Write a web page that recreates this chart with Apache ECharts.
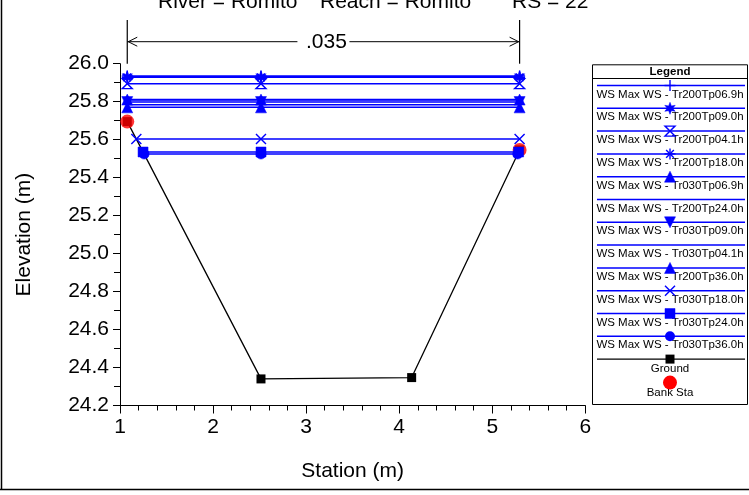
<!DOCTYPE html>
<html><head><meta charset="utf-8">
<script src="https://cdn.jsdelivr.net/npm/echarts@6/dist/echarts.min.js"></script>
<style>html,body{margin:0;padding:0;background:#fff}#c{width:749px;height:495px}</style>
</head><body><div id="c"></div>
<script>
// ---- data ----
const titleParts = ['River = Romito', 'Reach = Romito', 'RS = 22'];
const nValueLabel = '.035';
const groundStation = [1.078, 2.515, 4.134, 5.294];
const groundElev = [25.695, 24.340, 24.347, 25.546];
const bankStation = [1.078, 5.294];
const bankElev = [25.695, 25.546];
const profileNames = [
  'WS Max WS - Tr200Tp06.9h', 'WS Max WS - Tr200Tp09.0h', 'WS Max WS - Tr200Tp04.1h',
  'WS Max WS - Tr200Tp18.0h', 'WS Max WS - Tr030Tp06.9h', 'WS Max WS - Tr200Tp24.0h',
  'WS Max WS - Tr030Tp09.0h', 'WS Max WS - Tr030Tp04.1h', 'WS Max WS - Tr200Tp36.0h',
  'WS Max WS - Tr030Tp18.0h', 'WS Max WS - Tr030Tp24.0h', 'WS Max WS - Tr030Tp36.0h'
];
const profileWS = [25.935, 25.931, 25.895, 25.928, 25.811, 25.809, 25.798, 25.784, 25.770, 25.603, 25.535, 25.524];
const profileSymbols = ['plus', 'star', 'hourglass', 'asterisk', 'triangle', 'none', 'triangleDown', 'none', 'triangle', 'cross', 'rect', 'circle'];
const xLimits = [1, 6];
const yLimits = [24.2, 26.0];
const groundName = 'Ground';
const bankName = 'Bank Sta';
const xAxisName = 'Station (m)';
const yAxisName = 'Elevation (m)';

// ---- styling / helpers ----
const FONT = "'Liberation Sans', Arial, sans-serif";
const BLUE = '#0000ff';
function starPts() {
  const p = [];
  for (let k = 0; k < 12; k++) {
    const a = (-90 + k * 30) * Math.PI / 180;
    const r = k % 2 === 0 ? 5 : 2.3;
    p.push([5 + r * Math.cos(a), 5 + r * Math.sin(a)]);
  }
  return p;
}
// each symbol: list of polys {pts, closed}; fill flag; size in px
const SYM = {
  plus: { fill: false, size: 11, polys: [{ pts: [[5, 0], [5, 10]] }, { pts: [[0, 5], [10, 5]] }] },
  star: { fill: true, size: 12, polys: [{ pts: starPts(), closed: true }] },
  hourglass: { fill: false, size: 10, polys: [{ pts: [[0, 0], [10, 0], [0, 10], [10, 10]], closed: true }] },
  asterisk: { fill: false, size: 11, polys: [{ pts: [[5, 0], [5, 10]] }, { pts: [[0, 5], [10, 5]] }, { pts: [[1.5, 1.5], [8.5, 8.5]] }, { pts: [[8.5, 1.5], [1.5, 8.5]] }] },
  triangle: { fill: true, size: 11, polys: [{ pts: [[5, 0], [10, 10], [0, 10]], closed: true }] },
  triangleDown: { fill: true, size: 11, polys: [{ pts: [[0, 0], [10, 0], [5, 10]], closed: true }] },
  cross: { fill: false, size: 10, polys: [{ pts: [[0, 0], [10, 10]] }, { pts: [[10, 0], [0, 10]] }] },
  rect: { fill: true, size: 10, polys: [{ pts: [[0, 0], [10, 0], [10, 10], [0, 10]], closed: true }] },
  circle: { fill: true, size: 10, circle: true }
};
function symPath(sym) {
  if (sym.circle) return 'circle';
  return 'path://' + sym.polys.map(p => p.pts.map((q, j) => (j ? 'L' : 'M') + q[0].toFixed(2) + ',' + q[1].toFixed(2)).join('') + (p.closed ? 'Z' : '')).join('');
}

function leftX(ws) {
  if (ws >= groundElev[0]) return groundStation[0];
  for (let i = 0; i < groundStation.length - 1; i++) {
    const e0 = groundElev[i], e1 = groundElev[i + 1];
    if ((e0 - ws) * (e1 - ws) <= 0 && e0 !== e1) {
      return groundStation[i] + (ws - e0) / (e1 - e0) * (groundStation[i + 1] - groundStation[i]);
    }
  }
  return groundStation[0];
}
function rightX(ws) {
  const n = groundStation.length;
  if (ws >= groundElev[n - 1]) return groundStation[n - 1];
  for (let i = n - 1; i > 0; i--) {
    const e0 = groundElev[i], e1 = groundElev[i - 1];
    if ((e0 - ws) * (e1 - ws) <= 0 && e0 !== e1) {
      return groundStation[i] + (ws - e0) / (e1 - e0) * (groundStation[i - 1] - groundStation[i]);
    }
  }
  return groundStation[n - 1];
}

const series = [];
series.push({
  name: groundName, type: 'line', z: 3, symbol: 'rect', symbolSize: 9,
  lineStyle: { color: '#000', width: 1.3 }, itemStyle: { color: '#000' },
  data: groundStation.map((s, i) => [s, groundElev[i]])
});
series.push({
  name: bankName, type: 'scatter', z: 4, symbol: 'circle', symbolSize: 14,
  itemStyle: { color: '#ff0000' },
  data: bankStation.map((s, i) => [s, bankElev[i]])
});
profileNames.forEach((name, i) => {
  const ws = profileWS[i];
  const symName = profileSymbols[i];
  const sym = SYM[symName];
  series.push({
    name, type: 'line', z: 5 + i,
    showSymbol: !!sym,
    symbol: sym ? symPath(sym) : 'none',
    symbolSize: sym ? sym.size : 0,
    symbolKeepAspect: true,
    lineStyle: { color: BLUE, width: 1.5 },
    itemStyle: sym ? (sym.fill ? { color: BLUE, borderColor: BLUE, borderWidth: 0.5 }
                               : { color: 'rgba(0,0,0,0)', borderColor: BLUE, borderWidth: 1.4 }) : { color: BLUE },
    data: [[leftX(ws), ws], [groundStation[1], ws], [rightX(ws), ws]]
  });
});

const chart = echarts.init(document.getElementById('c'), null, { renderer: 'canvas' });
const axisText = { color: '#000', fontSize: 21, fontFamily: FONT };
chart.setOption({
  animation: false,
  backgroundColor: '#fff',
  grid: { left: 120, right: 163.7, top: 63.7, bottom: 89.5 },
  xAxis: {
    type: 'value', min: xLimits[0], max: xLimits[1], interval: 1,
    name: xAxisName, nameLocation: 'middle', nameGap: 55, nameTextStyle: axisText,
    axisLine: { lineStyle: { color: '#000', width: 1 } },
    axisTick: { length: 8, lineStyle: { color: '#000' } },
    minorTick: { show: true, splitNumber: 5, length: 5, lineStyle: { color: '#000' } },
    axisLabel: Object.assign({ margin: 11 }, axisText),
    splitLine: { show: false }
  },
  yAxis: {
    type: 'value', min: yLimits[0], max: yLimits[1], interval: 0.2,
    name: yAxisName, nameLocation: 'middle', nameGap: 85, nameRotate: 90, nameTextStyle: axisText,
    axisLine: { show: true, lineStyle: { color: '#000', width: 1 } },
    axisTick: { show: true, length: 7, lineStyle: { color: '#000' } },
    minorTick: { show: true, splitNumber: 2, length: 6, lineStyle: { color: '#000' } },
    axisLabel: Object.assign({ margin: 11, formatter: v => v.toFixed(1) }, axisText),
    splitLine: { show: false }
  },
  series
});

// ---- annotations, legend, frame ----
const g = [];
g.push({ type: 'line', shape: { x1: 1.5, y1: 0, x2: 1.5, y2: 489.5 }, style: { stroke: '#000', lineWidth: 1.5 } });
g.push({ type: 'line', shape: { x1: 0, y1: 489.5, x2: 749, y2: 489.5 }, style: { stroke: '#000', lineWidth: 1.5 } });
const titleX = [158, 320, 512];
titleParts.forEach((t, i) => g.push({ type: 'text', x: titleX[i], y: 2.7,
  style: { text: t, fill: '#000', font: '21px ' + FONT, textAlign: 'left', textVerticalAlign: 'middle' } }));
const pL = chart.convertToPixel({ gridIndex: 0 }, [bankStation[0], yLimits[1]]);
const pR = chart.convertToPixel({ gridIndex: 0 }, [bankStation[1], yLimits[1]]);
const ay = 41.7, midX = (pL[0] + pR[0]) / 2;
g.push({ type: 'line', shape: { x1: pL[0], y1: 20, x2: pL[0], y2: pL[1] }, style: { stroke: '#000', lineWidth: 1.2 } });
g.push({ type: 'line', shape: { x1: pR[0], y1: 20, x2: pR[0], y2: pR[1] }, style: { stroke: '#000', lineWidth: 1.2 } });
g.push({ type: 'line', shape: { x1: pL[0], y1: ay, x2: midX - 26, y2: ay }, style: { stroke: '#000', lineWidth: 1 } });
g.push({ type: 'line', shape: { x1: midX + 26, y1: ay, x2: pR[0], y2: ay }, style: { stroke: '#000', lineWidth: 1 } });
g.push({ type: 'polyline', shape: { points: [[pL[0] + 10, ay - 4.5], [pL[0] + 1, ay], [pL[0] + 10, ay + 4.5]] }, style: { stroke: '#000', lineWidth: 1, fill: null } });
g.push({ type: 'polyline', shape: { points: [[pR[0] - 10, ay - 4.5], [pR[0] - 1, ay], [pR[0] - 10, ay + 4.5]] }, style: { stroke: '#000', lineWidth: 1, fill: null } });
g.push({ type: 'text', x: midX + 3, y: 42.5, style: { text: nValueLabel, fill: '#000', font: '21px ' + FONT, textAlign: 'center', textVerticalAlign: 'middle' } });

// legend
const LX = 592, LY = 64.3, LW = 155, LH = 339.7, CX = 670;
g.push({ type: 'rect', z: 10, shape: { x: LX + 0.5, y: LY + 0.5, width: LW, height: LH }, style: { stroke: '#000', fill: '#fff', lineWidth: 1 } });
g.push({ type: 'line', z: 11, shape: { x1: LX, y1: 78.5, x2: LX + LW, y2: 78.5 }, style: { stroke: '#000', lineWidth: 1 } });
g.push({ type: 'text', z: 11, x: CX, y: 71.5, style: { text: 'Legend', fill: '#000', font: 'bold 11.5px ' + FONT, textAlign: 'center', textVerticalAlign: 'middle' } });
const step = 22.8, y0 = 85.5, lx1 = 597, lx2 = 745;
function pushMarker(sym, cx, cy) {
  const s = sym.size;
  if (sym.circle) {
    g.push({ type: 'circle', z: 12, shape: { cx, cy, r: s / 2 }, style: { fill: BLUE } });
    return;
  }
  sym.polys.forEach(p => {
    const pts = p.pts.map(q => [cx - s / 2 + q[0] * s / 10, cy - s / 2 + q[1] * s / 10]);
    if (p.closed) {
      g.push({ type: 'polygon', z: 12, shape: { points: pts },
        style: sym.fill ? { fill: BLUE, stroke: BLUE, lineWidth: 0.5 } : { fill: null, stroke: BLUE, lineWidth: 1.4 } });
    } else {
      g.push({ type: 'polyline', z: 12, shape: { points: pts }, style: { fill: null, stroke: BLUE, lineWidth: 1.4 } });
    }
  });
}
profileNames.forEach((name, i) => {
  const y = y0 + i * step;
  g.push({ type: 'line', z: 11, shape: { x1: lx1, y1: y, x2: lx2, y2: y }, style: { stroke: BLUE, lineWidth: 1.5 } });
  const sym = SYM[profileSymbols[i]];
  if (sym) pushMarker(sym, CX, y);
  g.push({ type: 'text', z: 11, x: CX, y: y + 9, style: { text: name, fill: '#000', font: '11.5px ' + FONT, textAlign: 'center', textVerticalAlign: 'middle' } });
});
const gy = y0 + profileNames.length * step;
g.push({ type: 'line', z: 11, shape: { x1: lx1, y1: gy, x2: lx2, y2: gy }, style: { stroke: '#000', lineWidth: 1.3 } });
g.push({ type: 'rect', z: 12, shape: { x: CX - 4.5, y: gy - 4.5, width: 9, height: 9 }, style: { fill: '#000' } });
g.push({ type: 'text', z: 11, x: CX, y: gy + 10, style: { text: groundName, fill: '#000', font: '11.5px ' + FONT, textAlign: 'center', textVerticalAlign: 'middle' } });
g.push({ type: 'circle', z: 12, shape: { cx: CX, cy: gy + 23.5, r: 7 }, style: { fill: '#ff0000' } });
g.push({ type: 'text', z: 11, x: CX, y: gy + 33.5, style: { text: bankName, fill: '#000', font: '11.5px ' + FONT, textAlign: 'center', textVerticalAlign: 'middle' } });

chart.setOption({ graphic: { elements: g } });
</script>
</body></html>
